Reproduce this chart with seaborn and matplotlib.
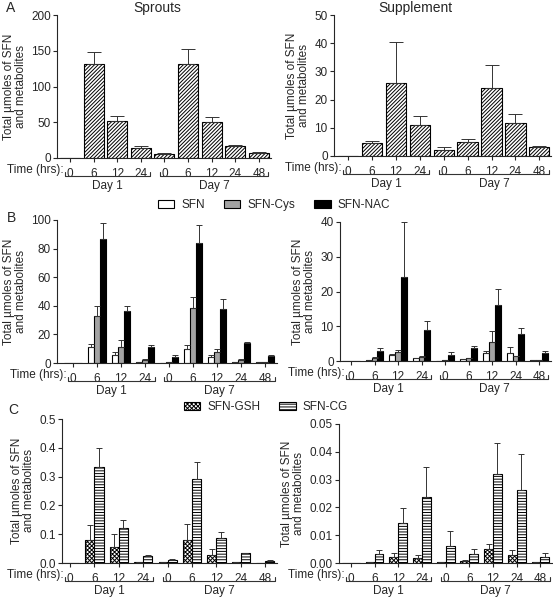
# SFN and metabolites - sprouts vs supplement, panels A-C

import numpy as np
import pandas as pd
import matplotlib.pyplot as plt
import seaborn as sns
from matplotlib.container import BarContainer
from matplotlib.transforms import blended_transform_factory

sns.set_style('ticks')
plt.rcParams['font.family'] = ['Liberation Sans', 'DejaVu Sans']
plt.rcParams['hatch.linewidth'] = 0.7

# Time points (two collection days)
slots = ['d1_0', 'd1_6', 'd1_12', 'd1_24', 'd7_0', 'd7_6', 'd7_12', 'd7_24', 'd7_48']
hours = ['0', '6', '12', '24', '0', '6', '12', '24', '48']
days = ['Day 1', 'Day 7']
day_slots = [(0, 3), (4, 8)]

# Panel A: total SFN + metabolites
a_sprouts = [0, 131, 52, 14, 5.6, 131, 50, 17, 7.5]
a_sprouts_err = [0, 17, 7, 2.5, 1.4, 22, 8, 1, 0.5]
a_supp = [0, 4.5, 26, 10.9, 2.1, 5.1, 24, 11.7, 3.2]
a_supp_err = [0, 0.8, 14.3, 3.4, 1.0, 0.8, 8.1, 3.1, 0.5]

# Panel B: SFN, SFN-Cys, SFN-NAC
b_names = ['SFN', 'SFN-Cys', 'SFN-NAC']
b_spr_sfn = [0, 11.2, 5.8, 0.7, 0.3, 10.0, 4.2, 0.7, 0.9]
b_spr_sfn_err = [0, 2.3, 1.9, 0, 0, 2.8, 1.6, 0, 0]
b_spr_cys = [0, 33, 11.2, 2.1, 0.7, 38.5, 7.7, 2.1, 0.9]
b_spr_cys_err = [0, 7, 5.2, 0.7, 0, 7.5, 2.1, 0.9, 0]
b_spr_nac = [0, 86.7, 36.2, 11, 4.4, 84, 38, 13.8, 5.1]
b_spr_nac_err = [0, 11, 3.5, 1.9, 1.4, 12.5, 6.9, 0.9, 0.7]
b_sup_sfn = [0, 0.3, 1.6, 0.9, 0.1, 0.5, 2.3, 2.4, 0.2]
b_sup_sfn_err = [0, 0, 0.5, 0.1, 0, 0.1, 0.7, 1.6, 0]
b_sup_cys = [0, 0.9, 2.6, 1.2, 0.2, 0.8, 5.5, 1.3, 0.3]
b_sup_cys_err = [0, 0.2, 0.7, 0.3, 0, 0.1, 3.2, 0.2, 0]
b_sup_nac = [0, 3.0, 24.3, 8.8, 1.8, 3.6, 16.2, 7.9, 2.4]
b_sup_nac_err = [0, 0.7, 15.6, 2.8, 0.8, 0.6, 4.6, 1.6, 0.5]

# Panel C: SFN-GSH, SFN-CG
c_names = ['SFN-GSH', 'SFN-CG']
c_spr_gsh = [0, 0.081, 0.056, 0.002, 0.002, 0.081, 0.027, 0.002, 0.001]
c_spr_gsh_err = [0, 0.05, 0.044, 0, 0, 0.056, 0.02, 0, 0]
c_spr_cg = [0, 0.333, 0.12, 0.024, 0.012, 0.293, 0.087, 0.033, 0.007]
c_spr_cg_err = [0, 0.066, 0.031, 0.005, 0.002, 0.059, 0.019, 0.003, 0.002]
c_sup_gsh = [0, 0.0002, 0.0022, 0.0018, 0.0003, 0.0007, 0.0051, 0.003, 0.0002]
c_sup_gsh_err = [0, 0, 0.0014, 0.0012, 0, 0.0002, 0.0019, 0.0015, 0]
c_sup_cg = [0, 0.0034, 0.0144, 0.0237, 0.006, 0.0034, 0.032, 0.0263, 0.0022]
c_sup_cg_err = [0, 0.0011, 0.0053, 0.0107, 0.0054, 0.0016, 0.0113, 0.0129, 0.0014]

W, H = 553, 600
fig = plt.figure(figsize=(W / 100, H / 100), dpi=100)
FS = 8.5


def panel(px, names, vals, errs, colors, hatches, width, ymax, step, fmt, capsize):
    spine_x, sp, top_y, zero_y, xlo = px
    xhi = 8.5
    rect = [spine_x / W, 1 - zero_y / H, (xlo + xhi) * sp / W, (zero_y - top_y) / H]
    ax = fig.add_axes(rect)
    df = pd.DataFrame({
        'slot': np.tile(slots, len(names)),
        'series': np.repeat(names, len(slots)),
        'value': np.concatenate(vals),
    })
    sns.barplot(data=df, x='slot', y='value', hue='series', order=slots, hue_order=names,
                palette=dict(zip(names, colors)), saturation=1, width=width,
                errorbar=None, edgecolor='black', linewidth=0.8, legend=False, ax=ax)
    bars = [c for c in ax.containers if isinstance(c, BarContainer)]
    for cont, err, hatch in zip(bars, errs, hatches):
        xs = [p.get_x() + p.get_width() / 2 for p in cont.patches]
        ys = [p.get_height() for p in cont.patches]
        ax.errorbar(xs, ys, yerr=[np.zeros(len(err)), err], fmt='none', ecolor='#333333',
                    elinewidth=0.7, capsize=capsize, capthick=0.7)
        if hatch:
            for p in cont.patches:
                p.set_hatch(hatch)
    ax.set_xlim(-xlo, xhi)
    ax.set_ylim(0, ymax)
    ticks = np.arange(0, ymax + step / 2, step)
    ax.set_yticks(ticks)
    ax.set_yticklabels([fmt.format(v) for v in ticks])
    ax.set_xticks(range(len(slots)))
    ax.set_xticklabels(hours)
    ax.tick_params(axis='both', labelsize=FS, length=3, width=0.8, pad=1.5)
    ax.tick_params(axis='x', pad=4)
    ax.set_xlabel('')
    ax.set_ylabel('Total µmoles of SFN\nand metabolites', fontsize=FS, labelpad=3, linespacing=1.0)
    sns.despine(ax=ax)
    for s in ['left', 'bottom']:
        ax.spines[s].set_linewidth(0.8)

    # time label and day brackets under the axis
    h_px = zero_y - top_y
    tr = blended_transform_factory(ax.transData, ax.transAxes)
    ax.text(-0.28, -12 / h_px, 'Time (hrs):', transform=tr, ha='right', va='center', fontsize=FS)
    yb, ye = -18 / h_px, -14 / h_px
    for (a, b), day in zip(day_slots, days):
        x0, x1 = a - 0.2, b + 0.4
        ax.plot([x0, x0, x1, x1], [ye, yb, yb, ye], transform=tr, color='#333333',
                lw=0.8, clip_on=False)
        ax.text((x0 + x1) / 2, -28 / h_px, day, transform=tr, ha='center', va='center',
                fontsize=FS)
    return ax, bars


# Panel A
hatch_a = '/////////'
panel((57, 23.6, 15, 158, 0.55), ['Total'], [a_sprouts], [a_sprouts_err], ['white'], [hatch_a],
      0.85, 200, 50, '{:.0f}', 5)
panel((334, 23.9, 15, 156, 0.59), ['Total'], [a_supp], [a_supp_err], ['white'], [hatch_a],
      0.85, 50, 10, '{:.0f}', 5)

# Panel B
b_colors = ['white', '#a3a3a3', 'black']
axb, bars_b = panel((57, 24.0, 220, 363, 0.67), b_names, [b_spr_sfn, b_spr_cys, b_spr_nac],
                    [b_spr_sfn_err, b_spr_cys_err, b_spr_nac_err], b_colors, [None] * 3,
                    0.75, 100, 20, '{:.0f}', 2)
panel((340, 23.5, 222, 361, 0.47), b_names, [b_sup_sfn, b_sup_cys, b_sup_nac],
      [b_sup_sfn_err, b_sup_cys_err, b_sup_nac_err], b_colors, [None] * 3,
      0.75, 40, 10, '{:.0f}', 2)

# Panel C
c_hatches = ['xxxxxxxx', '------']
axc, bars_c = panel((62, 24.4, 419, 563, 0.33), c_names, [c_spr_gsh, c_spr_cg],
                    [c_spr_gsh_err, c_spr_cg_err], ['white', 'white'], c_hatches,
                    0.75, 0.5, 0.1, '{:.1f}', 2.5)
panel((339, 23.7, 424, 563, 0.5), c_names, [c_sup_gsh, c_sup_cg],
      [c_sup_gsh_err, c_sup_cg_err], ['white', 'white'], c_hatches,
      0.75, 0.05, 0.01, '{:.2f}', 2.5)

# legends
fig.legend([c.patches[1] for c in bars_b], b_names, ncol=3, loc='center',
           bbox_to_anchor=(274 / W, 1 - 205 / H), frameon=False, fontsize=FS,
           handlelength=1.4, handleheight=0.7, columnspacing=1.6, handletextpad=0.6)
fig.legend([c.patches[1] for c in bars_c], c_names, ncol=2, loc='center',
           bbox_to_anchor=(266 / W, 1 - 407 / H), frameon=False, fontsize=FS,
           handlelength=1.4, handleheight=0.7, columnspacing=1.6, handletextpad=0.6)

# titles and panel letters
fig.text(157 / W, 1 - 8 / H, 'Sprouts', ha='center', va='center', fontsize=10)
fig.text(415 / W, 1 - 8 / H, 'Supplement', ha='center', va='center', fontsize=10)
fig.text(11 / W, 1 - 8 / H, 'A', ha='center', va='center', fontsize=10)
fig.text(11 / W, 1 - 218 / H, 'B', ha='center', va='center', fontsize=10)
fig.text(13 / W, 1 - 410 / H, 'C', ha='center', va='center', fontsize=10)

fig.savefig('out.png', dpi=100)
